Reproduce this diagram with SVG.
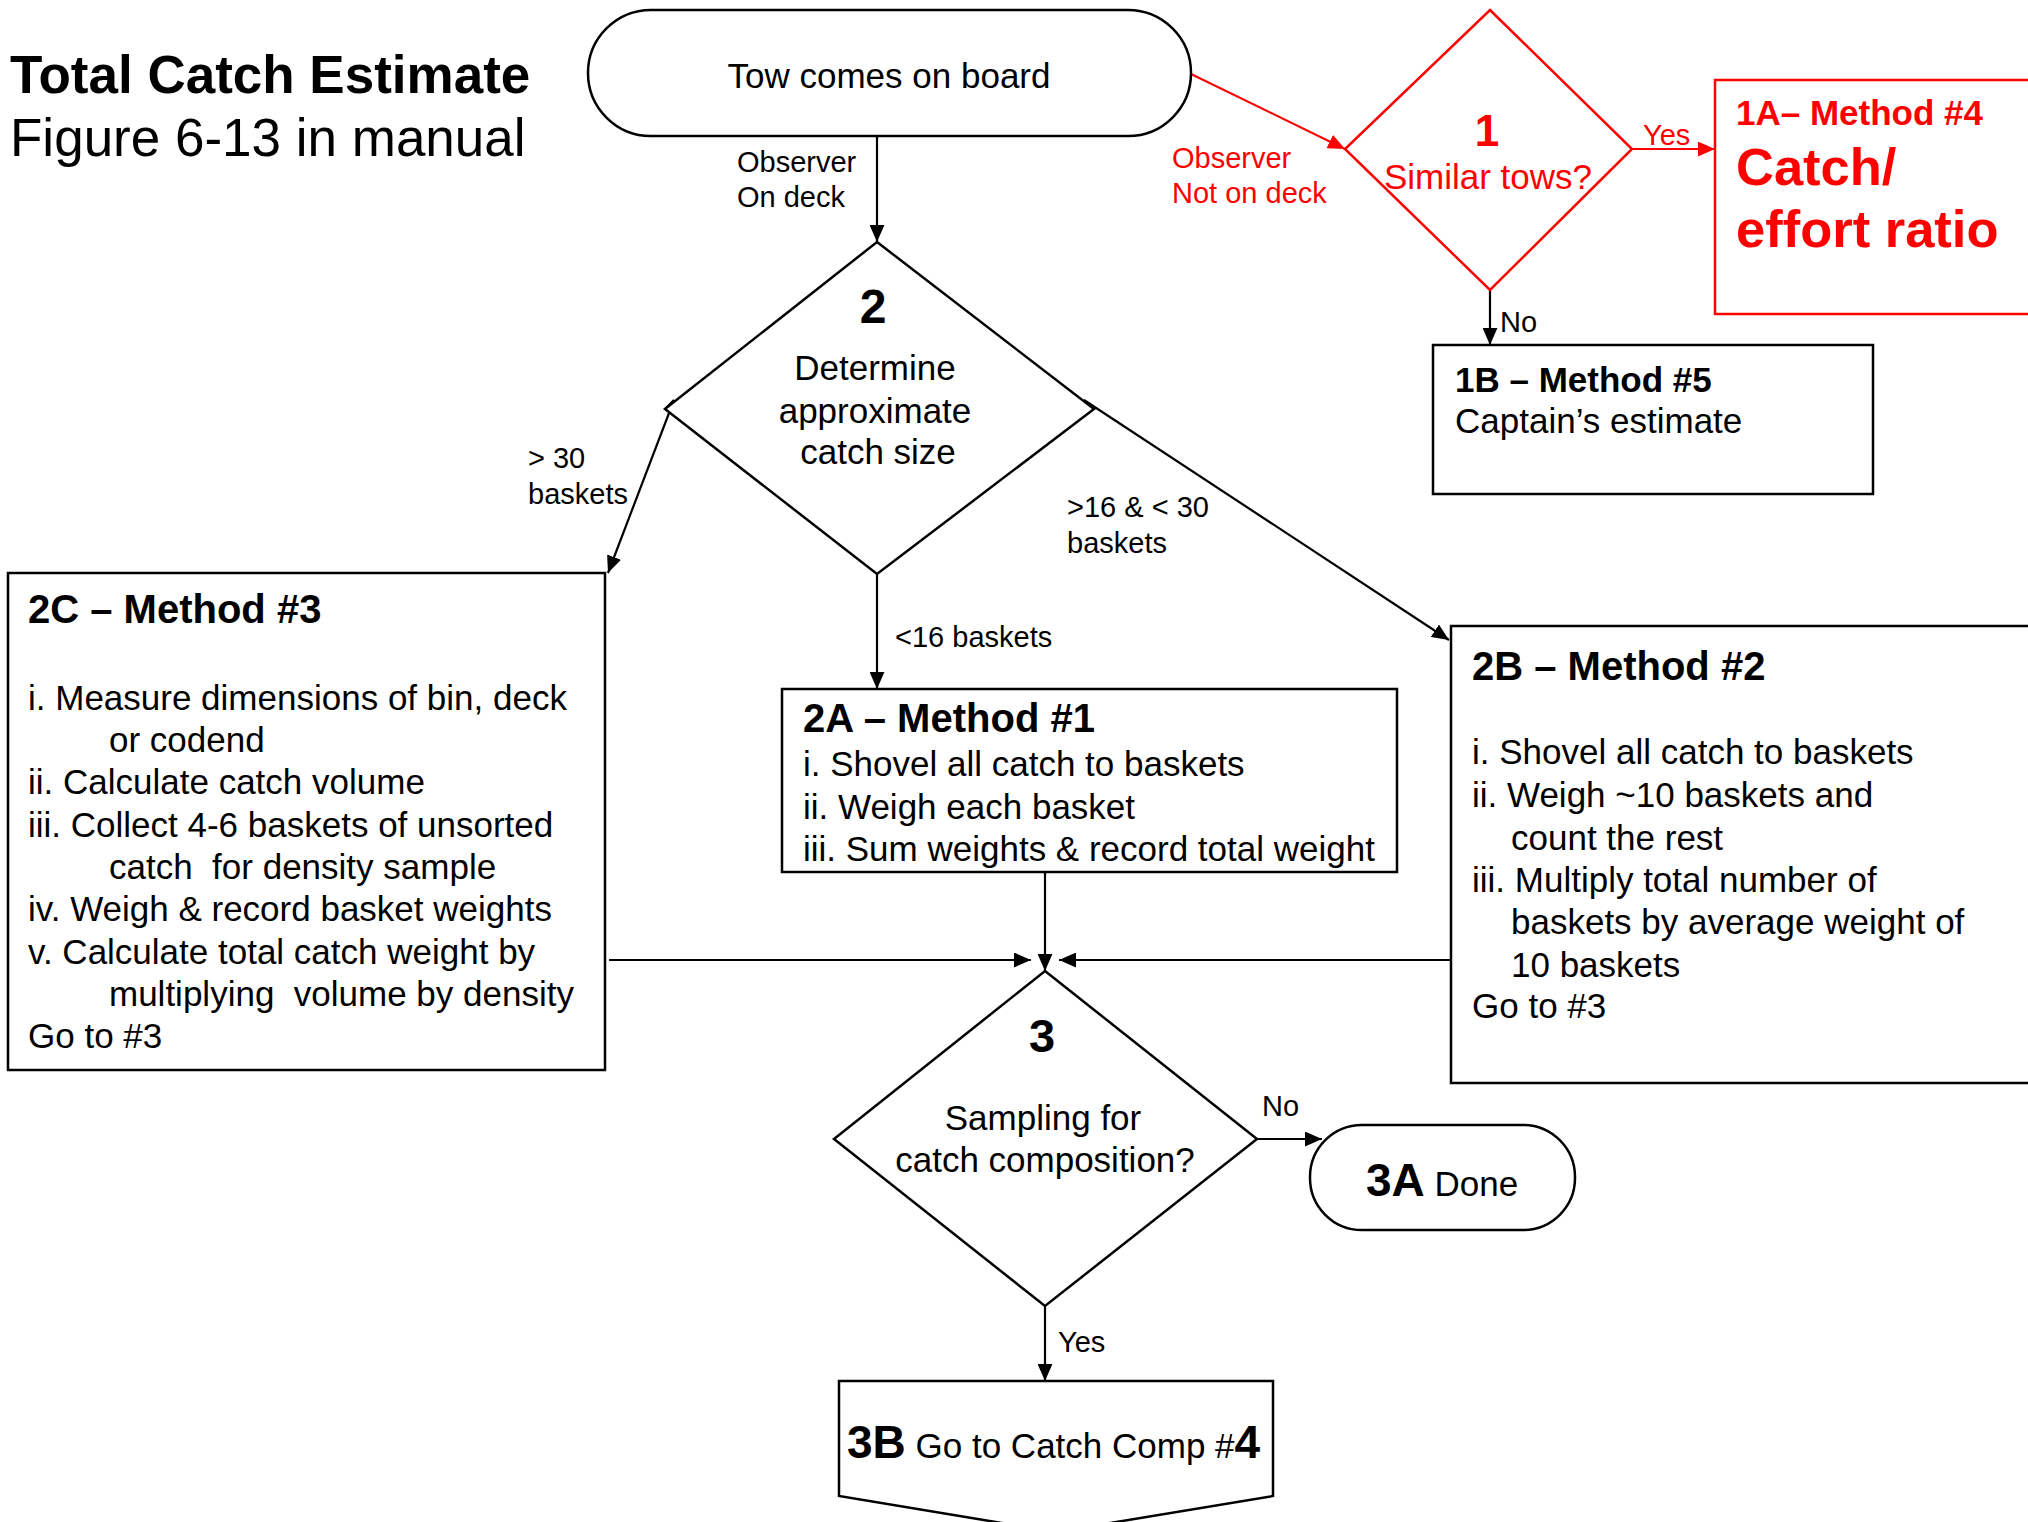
<svg xmlns="http://www.w3.org/2000/svg" width="2028" height="1522" viewBox="0 0 2028 1522">
<style>
text{font-family:"Liberation Sans",Arial,sans-serif;fill:#000}
.b{font-weight:bold}
.t35{font-size:35px}
.t29{font-size:29px}
.h40{font-size:40px;font-weight:bold}
.red{fill:#FF0000}
.box{fill:#fff;stroke:#000;stroke-width:2.5}
.rbox{fill:#fff;stroke:#FF0000;stroke-width:2.5}
.ln{fill:none;stroke:#000;stroke-width:2.2}
.rln{fill:none;stroke:#FF0000;stroke-width:2}
.mid{text-anchor:middle}
</style>
<defs>
<marker id="ah" viewBox="0 0 16 14" refX="16" refY="7" markerWidth="17" markerHeight="15" orient="auto" markerUnits="userSpaceOnUse"><path d="M0,0 L16,7 L0,14 z" fill="#000"/></marker>
<marker id="ahr" viewBox="0 0 16 14" refX="16" refY="7" markerWidth="17" markerHeight="15" orient="auto" markerUnits="userSpaceOnUse"><path d="M0,0 L16,7 L0,14 z" fill="#FF0000"/></marker>
</defs>
<rect width="2028" height="1522" fill="#fff"/>

<g id="title">
<text x="10" y="93" class="b" font-size="53">Total Catch Estimate</text>
<text x="10" y="156" font-size="53">Figure 6-13 in manual</text>
</g>

<g id="connectors">
<line class="ln" x1="877" y1="136" x2="877" y2="242" marker-end="url(#ah)"/>
<line class="rln" x1="1191" y1="74" x2="1345" y2="149" marker-end="url(#ahr)"/>
<line class="rln" x1="1632" y1="149" x2="1715" y2="149" marker-end="url(#ahr)"/>
<line class="ln" x1="1490" y1="290" x2="1490" y2="345" marker-end="url(#ah)"/>
<polyline class="ln" points="665,409 674,400 608,573" marker-end="url(#ah)"/>
<polyline class="ln" points="1094,409 1084,400 1449,640" marker-end="url(#ah)"/>
<line class="ln" x1="877" y1="574" x2="877" y2="689" marker-end="url(#ah)"/>
<line class="ln" x1="1045" y1="872" x2="1045" y2="971" marker-end="url(#ah)"/>
<line class="ln" x1="609" y1="960" x2="1031" y2="960" marker-end="url(#ah)"/>
<line class="ln" x1="1451" y1="960" x2="1059" y2="960" marker-end="url(#ah)"/>
<line class="ln" x1="1257" y1="1139" x2="1322" y2="1139" marker-end="url(#ah)"/>
<line class="ln" x1="1045" y1="1306" x2="1045" y2="1381" marker-end="url(#ah)"/>
<text x="737" y="172" class="t29">Observer</text>
<text x="737" y="207" class="t29">On deck</text>
<text x="1172" y="168" class="t29 red">Observer</text>
<text x="1172" y="203" class="t29 red">Not on deck</text>
<text x="1643" y="145" class="t29 red">Yes</text>
<text x="1500" y="332" class="t29">No</text>
<text x="528" y="468" class="t29">&gt; 30</text>
<text x="528" y="504" class="t29">baskets</text>
<text x="1067" y="517" class="t29">&gt;16 &amp; &lt; 30</text>
<text x="1067" y="553" class="t29">baskets</text>
<text x="895" y="647" class="t29">&lt;16 baskets</text>
<text x="1262" y="1116" class="t29">No</text>
<text x="1058" y="1352" class="t29">Yes</text>
</g>

<g id="start">
<rect class="box" x="588" y="10" width="603" height="126" rx="63" ry="63"/>
<text x="889" y="88" class="t35 mid">Tow comes on board</text>
</g>

<g id="d1">
<polygon class="rbox" points="1490,10 1632,149 1490,290 1345,149"/>
<text x="1487" y="146" class="red b mid" font-size="44">1</text>
<text x="1488" y="189" class="t35 red mid">Similar tows?</text>
</g>

<g id="n1A">
<rect class="rbox" x="1715" y="80" width="330" height="234"/>
<text x="1736" y="125" class="red b" font-size="35">1A– Method #4</text>
<text x="1736" y="185" class="red b" font-size="52.5">Catch/</text>
<text x="1736" y="247" class="red b" font-size="52.5">effort ratio</text>
</g>

<g id="n1B">
<rect class="box" x="1433" y="345" width="440" height="149"/>
<text x="1455" y="392" class="b" font-size="35">1B – Method #5</text>
<text x="1455" y="433" class="t35">Captain’s estimate</text>
</g>

<g id="d2">
<polygon class="box" points="877,242 1094,409 877,574 665,409"/>
<text x="873" y="323" class="b mid" font-size="48">2</text>
<text x="875" y="380" class="t35 mid">Determine</text>
<text x="875" y="423" class="t35 mid">approximate</text>
<text x="878" y="464" class="t35 mid">catch size</text>
</g>

<g id="n2C">
<rect class="box" x="8" y="573" width="597" height="497"/>
<text x="28" y="623" class="h40">2C – Method #3</text>
<text x="28" y="710" class="t35">i. Measure dimensions of bin, deck</text>
<text x="109" y="752" class="t35">or codend</text>
<text x="28" y="794" class="t35">ii. Calculate catch volume</text>
<text x="28" y="837" class="t35">iii. Collect 4-6 baskets of unsorted</text>
<text x="109" y="879" class="t35" xml:space="preserve">catch  for density sample</text>
<text x="28" y="921" class="t35">iv. Weigh &amp; record basket weights</text>
<text x="28" y="964" class="t35">v. Calculate total catch weight by</text>
<text x="109" y="1006" class="t35" xml:space="preserve">multiplying  volume by density</text>
<text x="28" y="1048" class="t35">Go to #3</text>
</g>

<g id="n2A">
<rect class="box" x="782" y="689" width="615" height="183"/>
<text x="803" y="732" class="h40">2A – Method #1</text>
<text x="803" y="776" class="t35">i. Shovel all catch to baskets</text>
<text x="803" y="819" class="t35">ii. Weigh each basket</text>
<text x="803" y="861" class="t35">iii. Sum weights &amp; record total weight</text>
</g>

<g id="n2B">
<rect class="box" x="1451" y="626" width="600" height="457"/>
<text x="1472" y="680" class="h40">2B – Method #2</text>
<text x="1472" y="764" class="t35">i. Shovel all catch to baskets</text>
<text x="1472" y="807" class="t35">ii. Weigh ~10 baskets and</text>
<text x="1511" y="850" class="t35">count the rest</text>
<text x="1472" y="892" class="t35">iii. Multiply total number of</text>
<text x="1511" y="934" class="t35">baskets by average weight of</text>
<text x="1511" y="977" class="t35">10 baskets</text>
<text x="1472" y="1018" class="t35">Go to #3</text>
</g>

<g id="d3">
<polygon class="box" points="1045,971 1257,1139 1045,1306 834,1139"/>
<text x="1042" y="1052" class="b mid" font-size="47">3</text>
<text x="1043" y="1130" class="t35 mid">Sampling for</text>
<text x="1045" y="1172" class="t35 mid">catch composition?</text>
</g>

<g id="n3A">
<rect class="box" x="1310" y="1125" width="265" height="105" rx="52" ry="52"/>
<text x="1366" y="1196" class="t35"><tspan class="b" font-size="46">3A</tspan> Done</text>
</g>

<g id="n3B">
<polygon class="box" points="839,1381 1273,1381 1273,1496 1056,1532 839,1496"/>
<text x="847" y="1458" class="t35"><tspan class="b" font-size="46">3B</tspan> Go to Catch Comp #<tspan class="b" font-size="46">4</tspan></text>
</g>
</svg>
